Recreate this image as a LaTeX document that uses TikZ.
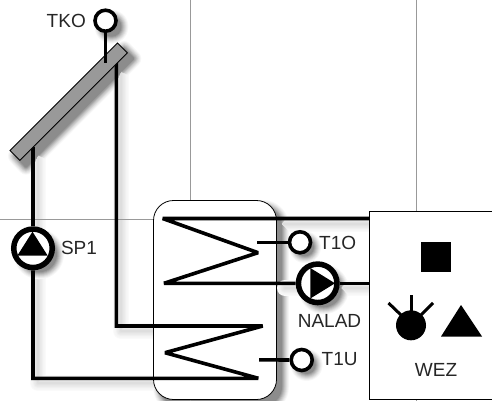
\documentclass[tikz,border=0pt]{standalone}
\usepackage{fontspec}
\setmainfont{Liberation Sans}
\tikzset{
  pipeline/.style={line width=3.6pt, black, line join=miter, miter limit=2},
  softline/.style={line join=round, line cap=round},
  softblob/.style={softline},
  sensorring/.style={circle, draw=black, line width=3.6pt, fill=white, minimum size=21pt, inner sep=0pt},
  pumpring/.style={circle, draw=black, line width=5.5pt, fill=white, minimum size=38.5pt, inner sep=0pt},
  outline/.style={draw=black, line width=0.8pt, inner sep=0pt},
  gridline/.style={black!40, line width=0.9pt},
  tagtext/.style={font=\fontsize{19}{19}\selectfont, text=black!85, inner sep=0pt}
}
\begin{document}
\begin{tikzpicture}[x=1pt,y=-1pt]
\useasboundingbox (0,0) rectangle (492,401);

% shadows, lightest ring first
\foreach \lw/\ls/\lp in {16/3/2, 14/7/3, 12/12/4, 10/18/6, 8/24/8, 6/31/9, 4/38/11, 2/45/13} {
  \draw [softline, black!\lp, line width=\lw pt] (121,66) -- (121,331) -- (262,331);
  \draw [softline, black!\lp, line width=\lw pt] (38,150) -- (38,383) -- (262,383);
  \draw [softline, black!\lp, line width=\lw pt] (280,224) -- (370,224);
  \filldraw [softblob, black!\ls, line width=\lw pt] (124,49) -- (133.3,58.7) -- (26,166.7) -- (16,156) -- cycle;
  \filldraw [softblob, black!\ls, line width=\lw pt] (111.5,26.7) circle (9);
  \filldraw [softblob, black!\ls, line width=\lw pt, rounded corners=18pt] (161,208) rectangle (281,405);
}
\foreach \lw/\ls/\lp in {16/3/2, 14/7/3, 12/12/4, 10/18/6, 8/24/8, 6/31/9, 4/38/11, 2/45/13} {
  \draw [softline, black!\lp, line width=\lw pt] (285,288) -- (370,288);
  \filldraw [softblob, black!\ls, line width=\lw pt] (39,254.3) circle (17);
  \filldraw [softblob, black!\ls, line width=\lw pt] (323.7,289.3) circle (17);
  \filldraw [softblob, black!\ls, line width=\lw pt] (305,247.3) circle (8);
  \filldraw [softblob, black!\ls, line width=\lw pt] (306.7,365) circle (8);
}

% grid
\draw [gridline] (190,0) -- (190,401);
\draw [gridline] (416.5,0) -- (416.5,401);
\draw [gridline] (0,219) -- (492,219);

% storage tank and control unit
\node (tank) [outline, fill=white, rounded corners=20pt, minimum width=123pt, minimum height=199pt] at (215,300) {};
\node (wez) [outline, fill=white, minimum width=140pt, minimum height=187.7pt] at (439.5,305.15) {};

% sensors and pumps
\node (tko) [sensorring] at (105.5,20.7) {};
\node (t1o) [sensorring] at (300,242.3) {};
\node (t1u) [sensorring] at (301.7,360) {};
\node (sp1) [pumpring] at (33,248.3) {};
\node (nalad) [pumpring] at (317.7,283.3) {};

% free ends of the pipes
\coordinate (colleft) at (33,147);
\coordinate (colright) at (116.3,63);
\coordinate (tkoend) at (105.5,63);
\coordinate (t1oend) at (256.7,242.3);
\coordinate (t1uend) at (259,359.9);

% pipes
\draw [pipeline] (colright) -- (116.3,326) -- (262.7,326) -- (165,352.7) -- (258.3,378.3) -- (33,378.3) -- (sp1);
\draw [pipeline] (sp1) -- (colleft);
\draw [pipeline] (wez.west |- 0,218.5) -- (162.7,218.5) -- (258,252.7) -- (164,283.3) -- (nalad);
\draw [pipeline] (nalad) -- (wez.west |- nalad);

% collector
\node (collector) [outline, fill=black!40, minimum width=152pt, minimum height=14pt, rotate=45] at (68.7,101.7) {};

% sensor stems
\draw [pipeline] (tko) -- (tkoend);
\draw [pipeline] (t1o) -- (t1oend);
\draw [pipeline] (t1u) -- (t1uend);

% pump triangles
\fill (32.5,231.7) -- (47.7,255.7) -- (17.3,255.7) -- cycle;
\fill (310.3,268) -- (335,283.3) -- (310.3,298.5) -- cycle;

% symbols in the control unit
\fill (421,242) rectangle (451,272);
\fill (411,325.3) circle (15);
\draw [line width=3pt] (411,295) -- (411,312);
\draw [line width=3pt] (388.5,303) -- (401,315);
\draw [line width=3pt] (433,303) -- (421,315);
\fill (461,305) -- (482,336.5) -- (441,336.5) -- cycle;

% labels
\node (tkolabel) [tagtext, anchor=east] at (86,21) {TKO};
\node (sp1label) [tagtext] at (79,247.5) {SP1};
\node (t1olabel) [tagtext, anchor=west] at (319,243) {T1O};
\node (naladlabel) [tagtext] at (329.5,321) {NALAD};
\node (t1ulabel) [tagtext, anchor=west] at (321.5,359) {T1U};
\node (wezlabel) [tagtext] at (436,370) {WEZ};

\end{tikzpicture}
\end{document}
